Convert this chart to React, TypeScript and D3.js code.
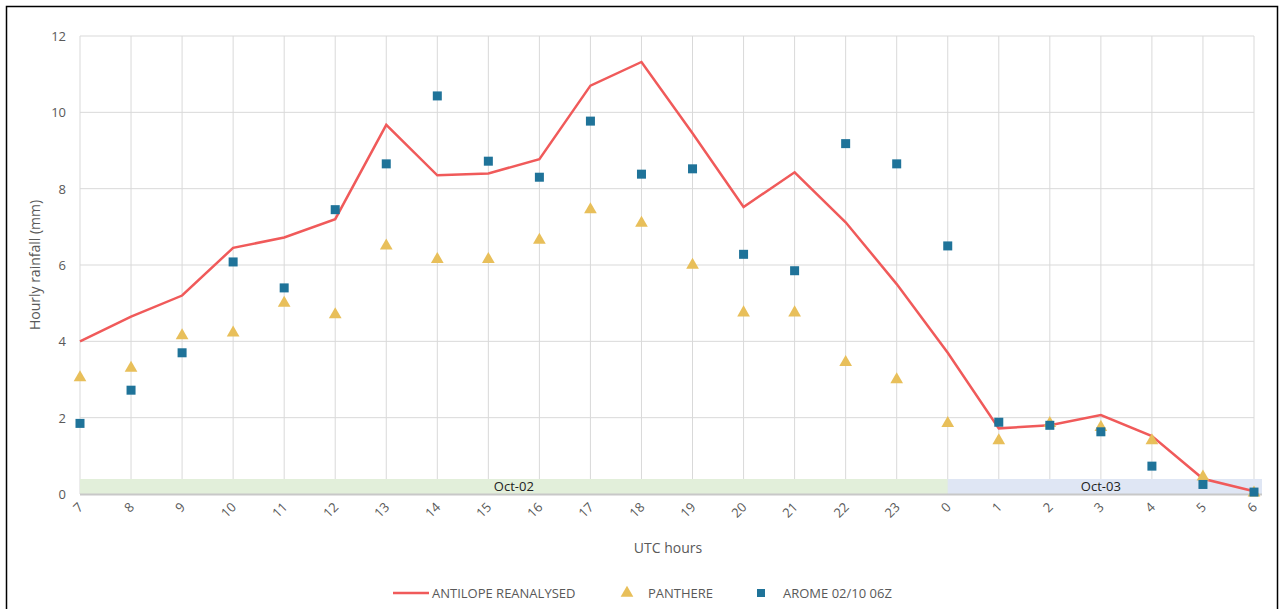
import { useEffect, useRef } from "react";
import * as d3 from "d3";

const hours = ["7","8","9","10","11","12","13","14","15","16","17","18","19","20","21","22","23","0","1","2","3","4","5","6"];
const antilope = [4.0,4.65,5.2,6.45,6.72,7.2,9.67,8.35,8.4,8.77,10.7,11.32,9.45,7.52,8.43,7.12,5.5,3.7,1.72,1.8,2.07,1.52,0.4,0.07];
const panthere = [3.05,3.3,4.15,4.22,5.0,4.7,6.5,6.15,6.15,6.65,7.45,7.1,6.0,4.75,4.75,3.45,3.0,1.85,1.4,1.85,1.75,1.4,0.45,0.03];
const arome = [1.85,2.72,3.7,6.08,5.4,7.45,8.65,10.43,8.72,8.3,9.77,8.38,8.52,6.28,5.85,9.18,8.65,6.5,1.88,1.8,1.63,0.73,0.25,0.05];
const yTicks = [0,2,4,6,8,10,12];

const RED = "#f05a5a";
const GOLD = "#e8bf5a";
const BLUE = "#1f7399";
const GRID = "#d9d9d9";
const TEXT = "#595959";
const FONT = "'Open Sans', 'Liberation Sans', sans-serif";

export default function App() {
  const ref = useRef<SVGSVGElement>(null);

  useEffect(() => {
    if (!ref.current) return;
    const svg = d3.select(ref.current);
    svg.selectAll("*").remove();
    const W = 1280, H = 609;
    svg.attr("font-family", FONT);

    svg.append("rect").attr("x", 6.5).attr("y", 6.5).attr("width", W - 9).attr("height", H + 10)
      .attr("fill", "white").attr("stroke", "black").attr("stroke-width", 1.5);

    const x = d3.scalePoint<string>().domain(hours).range([80, 1254]);
    const y = d3.scaleLinear().domain([0, 12]).range([494, 36]);
    const step = x.step();

    // grid
    svg.append("g").selectAll("line").data(hours).join("line")
      .attr("x1", (d) => x(d)!).attr("x2", (d) => x(d)!)
      .attr("y1", y(12)).attr("y2", y(0)).attr("stroke", GRID);
    svg.append("g").selectAll("line").data(yTicks).join("line")
      .attr("x1", x("7")!).attr("x2", x("6")!)
      .attr("y1", (d) => y(d)).attr("y2", (d) => y(d)).attr("stroke", GRID);

    // date bands
    const bandH = 15;
    svg.append("rect").attr("x", x("7")!).attr("y", y(0) - bandH).attr("width", x("0")! - x("7")!)
      .attr("height", bandH).attr("fill", "#e2efda");
    svg.append("rect").attr("x", x("0")!).attr("y", y(0) - bandH).attr("width", x("6")! - x("0")! + 8)
      .attr("height", bandH).attr("fill", "#dfe6f4");
    svg.append("text").attr("x", x("15")! + step / 2).attr("y", y(0) - 3).attr("text-anchor", "middle")
      .attr("font-size", 13).attr("fill", "#222").text("Oct-02");
    svg.append("text").attr("x", x("3")!).attr("y", y(0) - 3).attr("text-anchor", "middle")
      .attr("font-size", 13).attr("fill", "#222").text("Oct-03");

    svg.append("line").attr("x1", x("7")!).attr("x2", x("6")! + 8).attr("y1", y(0) + 0.5).attr("y2", y(0) + 0.5)
      .attr("stroke", "#c8c8c8").attr("stroke-width", 2);

    // y axis labels
    svg.append("g").selectAll("text").data(yTicks).join("text")
      .attr("x", 66).attr("y", (d) => y(d) + 5).attr("text-anchor", "end")
      .attr("font-size", 13).attr("fill", TEXT).text((d) => d);
    svg.append("text").attr("transform", `translate(40,${y(6)}) rotate(-90)`).attr("text-anchor", "middle")
      .attr("font-size", 14).attr("fill", TEXT).text("Hourly rainfall (mm)");

    // x axis labels
    svg.append("g").selectAll("text").data(hours).join("text")
      .attr("transform", (d) => `translate(${x(d)! + 4},${y(0) + 14}) rotate(-45)`)
      .attr("text-anchor", "end").attr("font-size", 13).attr("fill", TEXT).text((d) => d);
    svg.append("text").attr("x", 668).attr("y", 553).attr("text-anchor", "middle")
      .attr("font-size", 14).attr("fill", TEXT).text("UTC hours");

    // series
    const line = d3.line<number>().x((_, i) => x(hours[i])!).y((d) => y(d));
    svg.append("path").datum(antilope).attr("d", line).attr("fill", "none")
      .attr("stroke", RED).attr("stroke-width", 2.5);
    const tri = d3.symbol().type(d3.symbolTriangle).size(70);
    svg.append("g").selectAll("path").data(panthere).join("path")
      .attr("transform", (d, i) => `translate(${x(hours[i])},${y(d)})`).attr("d", tri()).attr("fill", GOLD);
    svg.append("g").selectAll("rect").data(arome).join("rect")
      .attr("x", (_, i) => x(hours[i])! - 4.5).attr("y", (d) => y(d) - 4.5)
      .attr("width", 9).attr("height", 9).attr("fill", BLUE);

    // legend
    const ly = 593;
    svg.append("line").attr("x1", 393).attr("x2", 429).attr("y1", ly).attr("y2", ly)
      .attr("stroke", RED).attr("stroke-width", 2.5);
    svg.append("text").attr("x", 432).attr("y", ly + 5).attr("font-size", 13).attr("fill", TEXT).text("ANTILOPE REANALYSED");
    svg.append("path").attr("transform", `translate(627,${ly})`).attr("d", tri()).attr("fill", GOLD);
    svg.append("text").attr("x", 648).attr("y", ly + 5).attr("font-size", 13).attr("fill", TEXT).text("PANTHERE");
    svg.append("rect").attr("x", 757).attr("y", ly - 4).attr("width", 8).attr("height", 8).attr("fill", BLUE);
    svg.append("text").attr("x", 783).attr("y", ly + 5).attr("font-size", 13).attr("fill", TEXT).text("AROME 02/10 06Z");
  }, []);

  return <svg ref={ref} width={1280} height={609} style={{ position: "absolute", left: 0, top: 0 }} />;
}
